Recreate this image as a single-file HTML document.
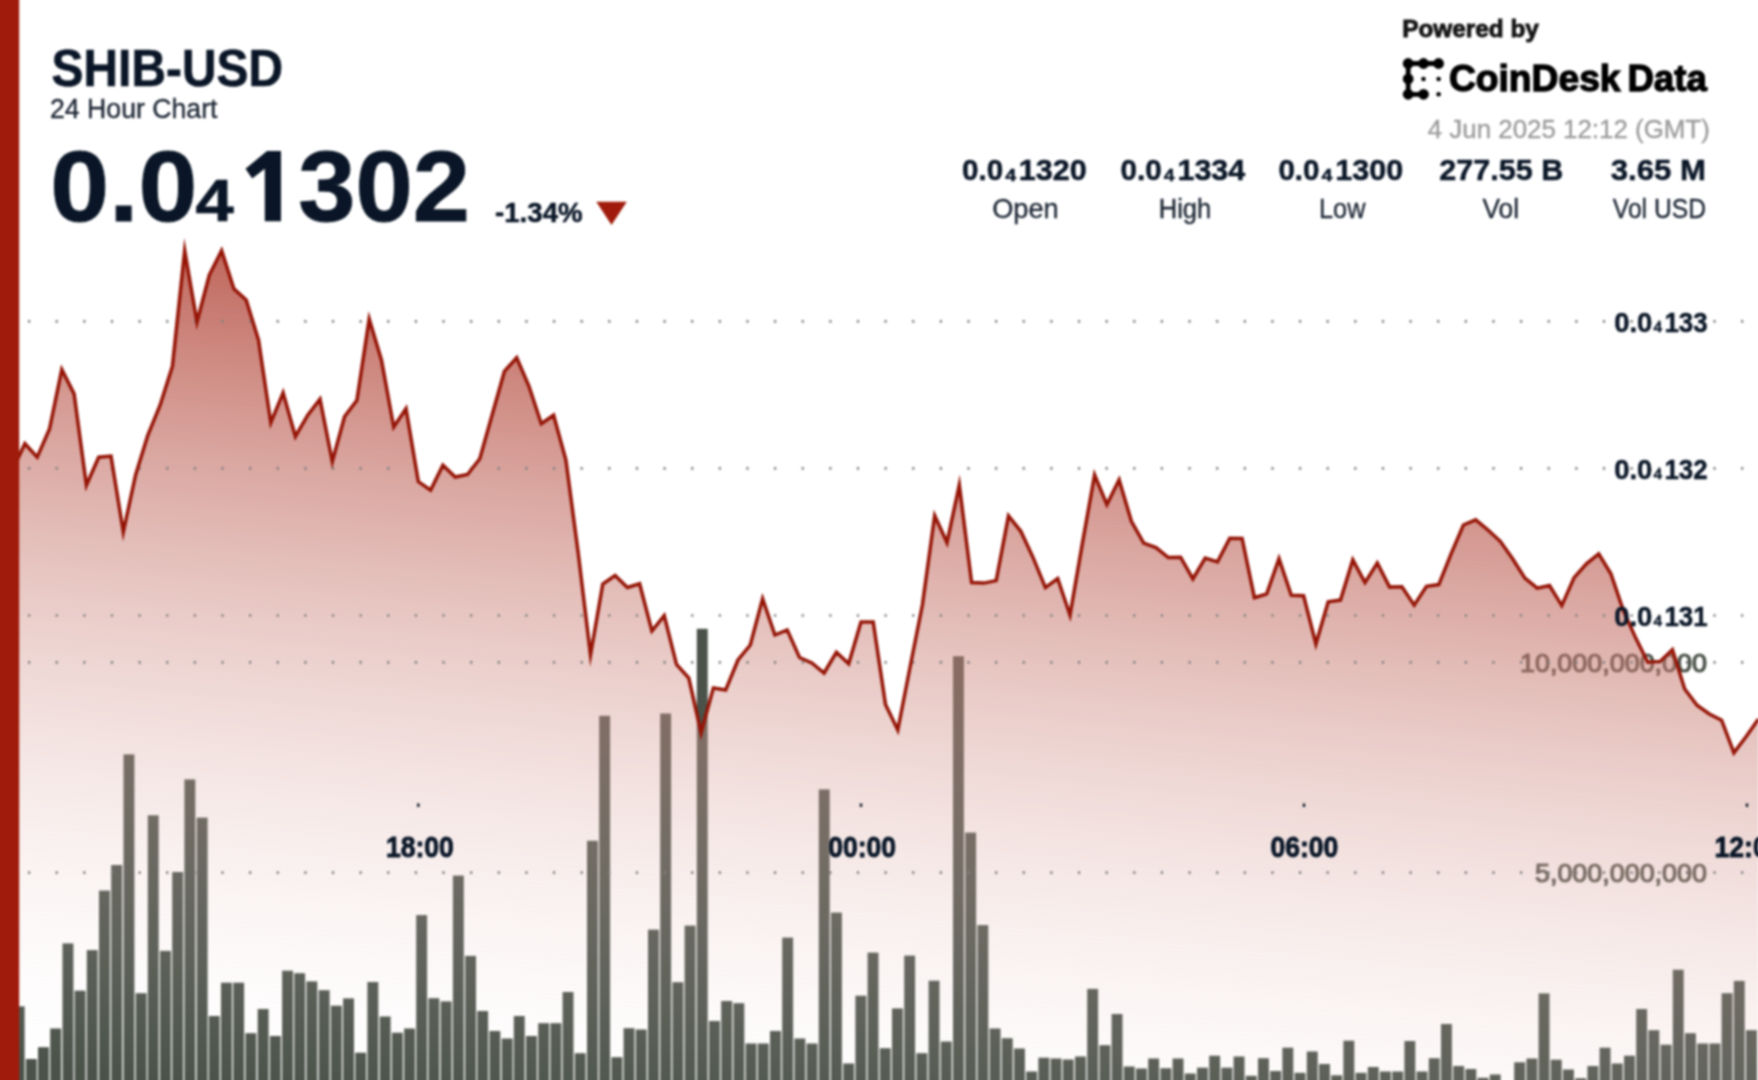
<!DOCTYPE html>
<html><head><meta charset="utf-8"><title>SHIB-USD 24 Hour Chart</title>
<style>html,body{margin:0;padding:0;background:#fff}body{width:1758px;height:1080px;overflow:hidden;font-family:"Liberation Sans",sans-serif}svg{display:block}text{font-family:"Liberation Sans",sans-serif}</style></head><body>
<svg width="1758" height="1080" viewBox="0 0 1758 1080">
<defs>
<linearGradient id="ag" gradientUnits="userSpaceOnUse" x1="0" y1="30.0" x2="-111.9" y2="1148.8"><stop offset="0" stop-color="#a01b0b" stop-opacity="1"/><stop offset="0.9150" stop-color="#f7ecea" stop-opacity="0"/><stop offset="1" stop-color="#ffffff" stop-opacity="0"/></linearGradient>
<filter id="bl" x="-2%" y="-2%" width="104%" height="104%" color-interpolation-filters="sRGB"><feGaussianBlur stdDeviation="0.8"/></filter>
</defs>
<rect width="1758" height="1080" fill="#fff"/>
<g filter="url(#bl)">
<g fill="#4a5249">
<rect x="13.7" y="1006.4" width="10.9" height="83.6"/>
<rect x="25.9" y="1059.0" width="10.9" height="31.0"/>
<rect x="38.0" y="1047.2" width="10.9" height="42.8"/>
<rect x="50.2" y="1028.5" width="10.9" height="61.5"/>
<rect x="62.5" y="943.4" width="10.9" height="146.6"/>
<rect x="74.6" y="990.7" width="10.9" height="99.3"/>
<rect x="86.8" y="950.1" width="10.9" height="139.9"/>
<rect x="99.0" y="890.6" width="10.9" height="199.4"/>
<rect x="111.2" y="865.0" width="10.9" height="225.0"/>
<rect x="123.5" y="754.4" width="10.9" height="335.6"/>
<rect x="135.7" y="993.2" width="10.9" height="96.8"/>
<rect x="147.8" y="815.3" width="10.9" height="274.7"/>
<rect x="160.0" y="950.9" width="10.9" height="139.1"/>
<rect x="172.2" y="872.0" width="10.9" height="218.0"/>
<rect x="184.4" y="779.4" width="10.9" height="310.6"/>
<rect x="196.7" y="817.6" width="10.9" height="272.4"/>
<rect x="208.8" y="1016.0" width="10.9" height="74.0"/>
<rect x="221.0" y="982.7" width="10.9" height="107.3"/>
<rect x="233.2" y="982.7" width="10.9" height="107.3"/>
<rect x="245.4" y="1033.2" width="10.9" height="56.8"/>
<rect x="257.7" y="1009.0" width="10.9" height="81.0"/>
<rect x="269.9" y="1036.0" width="10.9" height="54.0"/>
<rect x="282.1" y="970.7" width="10.9" height="119.3"/>
<rect x="294.2" y="973.2" width="10.9" height="116.8"/>
<rect x="306.4" y="981.4" width="10.9" height="108.6"/>
<rect x="318.7" y="990.2" width="10.9" height="99.8"/>
<rect x="330.9" y="1005.7" width="10.9" height="84.3"/>
<rect x="343.1" y="998.4" width="10.9" height="91.6"/>
<rect x="355.2" y="1052.7" width="10.9" height="37.3"/>
<rect x="367.4" y="982.0" width="10.9" height="108.0"/>
<rect x="379.7" y="1016.5" width="10.9" height="73.5"/>
<rect x="391.9" y="1032.7" width="10.9" height="57.3"/>
<rect x="404.1" y="1028.5" width="10.9" height="61.5"/>
<rect x="416.2" y="915.1" width="10.9" height="174.9"/>
<rect x="428.4" y="998.2" width="10.9" height="91.8"/>
<rect x="440.7" y="1001.4" width="10.9" height="88.6"/>
<rect x="452.9" y="875.6" width="10.9" height="214.4"/>
<rect x="465.1" y="955.9" width="10.9" height="134.1"/>
<rect x="477.2" y="1011.0" width="10.9" height="79.0"/>
<rect x="489.4" y="1031.0" width="10.9" height="59.0"/>
<rect x="501.7" y="1038.5" width="10.9" height="51.5"/>
<rect x="513.8" y="1016.0" width="10.9" height="74.0"/>
<rect x="526.0" y="1036.0" width="10.9" height="54.0"/>
<rect x="538.2" y="1023.2" width="10.9" height="66.8"/>
<rect x="550.4" y="1023.2" width="10.9" height="66.8"/>
<rect x="562.6" y="992.0" width="10.9" height="98.0"/>
<rect x="574.8" y="1053.2" width="10.9" height="36.8"/>
<rect x="587.0" y="840.8" width="10.9" height="249.2"/>
<rect x="599.2" y="715.8" width="10.9" height="374.2"/>
<rect x="611.4" y="1057.2" width="10.9" height="32.8"/>
<rect x="623.6" y="1028.2" width="10.9" height="61.8"/>
<rect x="635.8" y="1029.5" width="10.9" height="60.5"/>
<rect x="648.0" y="929.6" width="10.9" height="160.4"/>
<rect x="660.2" y="713.5" width="10.9" height="376.5"/>
<rect x="672.4" y="982.2" width="10.9" height="107.8"/>
<rect x="684.6" y="925.6" width="10.9" height="164.4"/>
<rect x="696.8" y="628.8" width="10.9" height="461.2"/>
<rect x="709.0" y="1021.0" width="10.9" height="69.0"/>
<rect x="721.2" y="1001.0" width="10.9" height="89.0"/>
<rect x="733.4" y="1003.2" width="10.9" height="86.8"/>
<rect x="745.6" y="1043.5" width="10.9" height="46.5"/>
<rect x="757.8" y="1043.5" width="10.9" height="46.5"/>
<rect x="770.0" y="1031.0" width="10.9" height="59.0"/>
<rect x="782.2" y="937.6" width="10.9" height="152.4"/>
<rect x="794.4" y="1038.5" width="10.9" height="51.5"/>
<rect x="806.6" y="1043.5" width="10.9" height="46.5"/>
<rect x="818.8" y="789.4" width="10.9" height="300.6"/>
<rect x="831.0" y="912.6" width="10.9" height="177.4"/>
<rect x="843.2" y="1063.5" width="10.9" height="26.5"/>
<rect x="855.4" y="995.7" width="10.9" height="94.3"/>
<rect x="867.6" y="952.6" width="10.9" height="137.4"/>
<rect x="879.8" y="1048.2" width="10.9" height="41.8"/>
<rect x="892.0" y="1008.4" width="10.9" height="81.6"/>
<rect x="904.2" y="955.6" width="10.9" height="134.4"/>
<rect x="916.4" y="1053.2" width="10.9" height="36.8"/>
<rect x="928.6" y="980.7" width="10.9" height="109.3"/>
<rect x="940.8" y="1041.5" width="10.9" height="48.5"/>
<rect x="953.0" y="656.2" width="10.9" height="433.8"/>
<rect x="965.2" y="832.6" width="10.9" height="257.4"/>
<rect x="977.4" y="925.1" width="10.9" height="164.9"/>
<rect x="989.6" y="1028.5" width="10.9" height="61.5"/>
<rect x="1001.8" y="1038.2" width="10.9" height="51.8"/>
<rect x="1014.0" y="1048.5" width="10.9" height="41.5"/>
<rect x="1026.2" y="1071.5" width="10.9" height="18.5"/>
<rect x="1038.4" y="1057.7" width="10.9" height="32.3"/>
<rect x="1050.6" y="1058.5" width="10.9" height="31.5"/>
<rect x="1062.8" y="1059.5" width="10.9" height="30.5"/>
<rect x="1075.0" y="1056.5" width="10.9" height="33.5"/>
<rect x="1087.2" y="988.9" width="10.9" height="101.1"/>
<rect x="1099.4" y="1045.2" width="10.9" height="44.8"/>
<rect x="1111.6" y="1014.0" width="10.9" height="76.0"/>
<rect x="1123.8" y="1066.5" width="10.9" height="23.5"/>
<rect x="1136.0" y="1068.5" width="10.9" height="21.5"/>
<rect x="1148.2" y="1058.5" width="10.9" height="31.5"/>
<rect x="1160.4" y="1068.2" width="10.9" height="21.8"/>
<rect x="1172.6" y="1058.5" width="10.9" height="31.5"/>
<rect x="1184.8" y="1073.5" width="10.9" height="16.5"/>
<rect x="1197.0" y="1067.7" width="10.9" height="22.3"/>
<rect x="1209.2" y="1055.7" width="10.9" height="34.3"/>
<rect x="1221.4" y="1067.7" width="10.9" height="22.3"/>
<rect x="1233.6" y="1056.5" width="10.9" height="33.5"/>
<rect x="1245.8" y="1075.8" width="10.9" height="14.2"/>
<rect x="1258.0" y="1058.2" width="10.9" height="31.8"/>
<rect x="1270.2" y="1071.0" width="10.9" height="19.0"/>
<rect x="1282.4" y="1047.7" width="10.9" height="42.3"/>
<rect x="1294.6" y="1072.8" width="10.9" height="17.2"/>
<rect x="1306.8" y="1051.5" width="10.9" height="38.5"/>
<rect x="1319.0" y="1064.0" width="10.9" height="26.0"/>
<rect x="1331.2" y="1075.3" width="10.9" height="14.7"/>
<rect x="1343.4" y="1040.7" width="10.9" height="49.3"/>
<rect x="1355.6" y="1072.8" width="10.9" height="17.2"/>
<rect x="1367.8" y="1067.0" width="10.9" height="23.0"/>
<rect x="1380.0" y="1071.5" width="10.9" height="18.5"/>
<rect x="1392.2" y="1071.5" width="10.9" height="18.5"/>
<rect x="1404.4" y="1041.0" width="10.9" height="49.0"/>
<rect x="1416.6" y="1071.5" width="10.9" height="18.5"/>
<rect x="1428.8" y="1058.2" width="10.9" height="31.8"/>
<rect x="1441.0" y="1024.0" width="10.9" height="66.0"/>
<rect x="1453.2" y="1066.0" width="10.9" height="24.0"/>
<rect x="1465.4" y="1069.0" width="10.9" height="21.0"/>
<rect x="1477.6" y="1077.8" width="10.9" height="12.2"/>
<rect x="1489.8" y="1074.5" width="10.9" height="15.5"/>
<rect x="1514.2" y="1062.3" width="10.9" height="27.7"/>
<rect x="1526.4" y="1058.5" width="10.9" height="31.5"/>
<rect x="1538.6" y="993.4" width="10.9" height="96.6"/>
<rect x="1550.8" y="1059.7" width="10.9" height="30.3"/>
<rect x="1563.0" y="1069.5" width="10.9" height="20.5"/>
<rect x="1575.2" y="1078.3" width="10.9" height="11.7"/>
<rect x="1587.4" y="1066.0" width="10.9" height="24.0"/>
<rect x="1599.6" y="1047.7" width="10.9" height="42.3"/>
<rect x="1611.8" y="1063.5" width="10.9" height="26.5"/>
<rect x="1624.0" y="1055.7" width="10.9" height="34.3"/>
<rect x="1636.2" y="1009.0" width="10.9" height="81.0"/>
<rect x="1648.4" y="1030.2" width="10.9" height="59.8"/>
<rect x="1660.6" y="1044.7" width="10.9" height="45.3"/>
<rect x="1672.8" y="969.7" width="10.9" height="120.3"/>
<rect x="1685.0" y="1033.2" width="10.9" height="56.8"/>
<rect x="1697.2" y="1043.5" width="10.9" height="46.5"/>
<rect x="1709.4" y="1043.5" width="10.9" height="46.5"/>
<rect x="1721.6" y="993.2" width="10.9" height="96.8"/>
<rect x="1733.8" y="980.9" width="10.9" height="109.1"/>
<rect x="1746.0" y="1030.2" width="10.9" height="59.8"/>
</g>
<text transform="translate(1519.97 672.20) scale(1.0128 1)" font-size="26.57" font-weight="normal" fill="#4a5249" stroke="#4a5249" stroke-width="1.20">10,000,000,000</text>
<text transform="translate(1534.99 882.40) scale(1.0125 1)" font-size="26.57" font-weight="normal" fill="#4a5249" stroke="#4a5249" stroke-width="1.20">5,000,000,000</text>
<polygon fill="url(#ag)" points="12.6,470.0 24.9,443.7 37.2,457.2 49.5,429.0 61.8,369.6 74.1,393.9 86.4,485.3 98.7,457.2 111.0,456.1 123.3,532.0 135.6,475.0 147.8,435.3 160.1,405.2 172.4,366.4 184.7,250.6 197.0,322.0 209.3,275.0 221.6,250.7 233.9,288.8 246.2,300.0 258.5,340.0 270.8,422.7 283.1,392.8 295.4,436.5 307.7,415.2 320.0,399.2 332.3,461.5 344.6,416.5 356.9,400.2 369.2,318.9 381.5,360.2 393.7,427.0 406.0,408.7 418.3,481.6 430.6,490.2 442.9,465.2 455.2,477.0 467.5,474.5 479.8,458.8 492.1,415.0 504.4,371.3 516.7,357.8 529.0,386.3 541.3,423.8 553.6,415.2 565.9,460.0 578.2,553.0 590.5,655.0 602.8,584.0 615.1,575.6 627.4,587.5 639.6,583.8 651.9,631.0 664.2,615.6 676.5,664.5 688.8,678.0 701.1,733.0 713.4,687.9 725.7,690.0 738.0,660.0 750.3,645.0 762.6,598.7 774.9,635.0 787.2,629.9 799.5,657.5 811.8,663.0 824.1,673.0 836.4,652.3 848.7,663.8 861.0,622.0 873.2,622.0 885.5,704.5 897.8,730.0 910.1,667.0 922.4,605.0 934.7,515.6 947.0,542.6 959.3,485.0 971.6,582.6 983.9,583.1 996.2,580.6 1008.5,515.8 1020.8,531.3 1033.1,557.6 1045.4,587.6 1057.7,578.5 1070.0,615.2 1082.3,543.9 1094.6,475.0 1106.9,504.6 1119.1,479.8 1131.4,521.3 1143.7,543.1 1156.0,547.6 1168.3,557.6 1180.6,557.2 1192.9,578.9 1205.2,558.1 1217.5,561.9 1229.8,538.3 1242.1,538.4 1254.4,597.7 1266.7,593.9 1279.0,558.6 1291.3,595.2 1303.6,595.7 1315.9,644.0 1328.2,601.8 1340.5,600.1 1352.8,559.8 1365.0,582.6 1377.3,563.0 1389.6,587.1 1401.9,586.7 1414.2,605.1 1426.5,586.3 1438.8,584.6 1451.1,553.8 1463.4,525.0 1475.7,519.8 1488.0,530.0 1500.3,541.3 1512.6,558.8 1524.9,578.1 1537.2,588.1 1549.5,585.5 1561.8,605.6 1574.1,577.6 1586.4,563.8 1598.7,553.8 1610.9,573.8 1623.2,610.0 1635.5,637.6 1647.8,662.2 1660.1,661.4 1672.4,649.7 1684.7,689.0 1697.0,705.2 1709.3,714.0 1721.6,720.2 1733.9,752.8 1746.2,736.5 1758.5,719.0 1758.5,1090 12.6,1090"/>
<line x1="28" x2="1758" y1="321.3" y2="321.3" stroke="#808080" stroke-width="2.7" stroke-dasharray="2.2 25.43"/>
<line x1="28" x2="1758" y1="468.4" y2="468.4" stroke="#808080" stroke-width="2.7" stroke-dasharray="2.2 25.43"/>
<line x1="28" x2="1758" y1="615.5" y2="615.5" stroke="#808080" stroke-width="2.7" stroke-dasharray="2.2 25.43"/>
<line x1="28" x2="1758" y1="662.3" y2="662.3" stroke="#808080" stroke-width="2.7" stroke-dasharray="2.2 25.43"/>
<line x1="28" x2="1758" y1="872.6" y2="872.6" stroke="#808080" stroke-width="2.7" stroke-dasharray="2.2 25.43"/>
<rect x="417.1" y="803.5" width="2.4" height="3.4" fill="#0a1627"/>
<rect x="859.8" y="803.5" width="2.4" height="3.4" fill="#0a1627"/>
<rect x="1302.8" y="803.5" width="2.4" height="3.4" fill="#0a1627"/>
<rect x="1745.8" y="803.5" width="2.4" height="3.4" fill="#0a1627"/>
<polyline fill="none" stroke="#951406" stroke-width="3.5" stroke-linejoin="miter" stroke-miterlimit="10" points="12.6,470.0 24.9,443.7 37.2,457.2 49.5,429.0 61.8,369.6 74.1,393.9 86.4,485.3 98.7,457.2 111.0,456.1 123.3,532.0 135.6,475.0 147.8,435.3 160.1,405.2 172.4,366.4 184.7,250.6 197.0,322.0 209.3,275.0 221.6,250.7 233.9,288.8 246.2,300.0 258.5,340.0 270.8,422.7 283.1,392.8 295.4,436.5 307.7,415.2 320.0,399.2 332.3,461.5 344.6,416.5 356.9,400.2 369.2,318.9 381.5,360.2 393.7,427.0 406.0,408.7 418.3,481.6 430.6,490.2 442.9,465.2 455.2,477.0 467.5,474.5 479.8,458.8 492.1,415.0 504.4,371.3 516.7,357.8 529.0,386.3 541.3,423.8 553.6,415.2 565.9,460.0 578.2,553.0 590.5,655.0 602.8,584.0 615.1,575.6 627.4,587.5 639.6,583.8 651.9,631.0 664.2,615.6 676.5,664.5 688.8,678.0 701.1,733.0 713.4,687.9 725.7,690.0 738.0,660.0 750.3,645.0 762.6,598.7 774.9,635.0 787.2,629.9 799.5,657.5 811.8,663.0 824.1,673.0 836.4,652.3 848.7,663.8 861.0,622.0 873.2,622.0 885.5,704.5 897.8,730.0 910.1,667.0 922.4,605.0 934.7,515.6 947.0,542.6 959.3,485.0 971.6,582.6 983.9,583.1 996.2,580.6 1008.5,515.8 1020.8,531.3 1033.1,557.6 1045.4,587.6 1057.7,578.5 1070.0,615.2 1082.3,543.9 1094.6,475.0 1106.9,504.6 1119.1,479.8 1131.4,521.3 1143.7,543.1 1156.0,547.6 1168.3,557.6 1180.6,557.2 1192.9,578.9 1205.2,558.1 1217.5,561.9 1229.8,538.3 1242.1,538.4 1254.4,597.7 1266.7,593.9 1279.0,558.6 1291.3,595.2 1303.6,595.7 1315.9,644.0 1328.2,601.8 1340.5,600.1 1352.8,559.8 1365.0,582.6 1377.3,563.0 1389.6,587.1 1401.9,586.7 1414.2,605.1 1426.5,586.3 1438.8,584.6 1451.1,553.8 1463.4,525.0 1475.7,519.8 1488.0,530.0 1500.3,541.3 1512.6,558.8 1524.9,578.1 1537.2,588.1 1549.5,585.5 1561.8,605.6 1574.1,577.6 1586.4,563.8 1598.7,553.8 1610.9,573.8 1623.2,610.0 1635.5,637.6 1647.8,662.2 1660.1,661.4 1672.4,649.7 1684.7,689.0 1697.0,705.2 1709.3,714.0 1721.6,720.2 1733.9,752.8 1746.2,736.5 1758.5,719.0"/>
<text transform="translate(385.88 857.00) scale(0.9161 1)" font-size="29.00" font-weight="bold" fill="none" stroke="#fff" stroke-opacity="0.3" stroke-width="2.4" stroke-linejoin="round">18:00</text>
<text transform="translate(385.88 857.00) scale(0.9161 1)" font-size="29.00" font-weight="bold" fill="#0a1627" stroke="#0a1627" stroke-width="0.90">18:00</text>
<text transform="translate(828.18 857.00) scale(0.9161 1)" font-size="29.00" font-weight="bold" fill="none" stroke="#fff" stroke-opacity="0.3" stroke-width="2.4" stroke-linejoin="round">00:00</text>
<text transform="translate(828.18 857.00) scale(0.9161 1)" font-size="29.00" font-weight="bold" fill="#0a1627" stroke="#0a1627" stroke-width="0.90">00:00</text>
<text transform="translate(1270.38 857.00) scale(0.9161 1)" font-size="29.00" font-weight="bold" fill="none" stroke="#fff" stroke-opacity="0.3" stroke-width="2.4" stroke-linejoin="round">06:00</text>
<text transform="translate(1270.38 857.00) scale(0.9161 1)" font-size="29.00" font-weight="bold" fill="#0a1627" stroke="#0a1627" stroke-width="0.90">06:00</text>
<text transform="translate(1714.58 857.00) scale(0.9161 1)" font-size="29.00" font-weight="bold" fill="none" stroke="#fff" stroke-opacity="0.3" stroke-width="2.4" stroke-linejoin="round">12:00</text>
<text transform="translate(1714.58 857.00) scale(0.9161 1)" font-size="29.00" font-weight="bold" fill="#0a1627" stroke="#0a1627" stroke-width="0.90">12:00</text>
<text transform="translate(51.58 85.90) scale(0.9193 1)" font-size="52.09" font-weight="bold" fill="#0a1627" stroke="#0a1627" stroke-width="0.61">SHIB-USD</text>
<text transform="translate(50.03 118.20) scale(0.9682 1)" font-size="27.54" font-weight="normal" fill="#1c2634" stroke="#1c2634" stroke-width="0.35">24 Hour Chart</text>
<text transform="translate(50.15 221.40) scale(1.0503 1)" font-size="100.86" font-weight="bold" fill="#0a1627" stroke="#0a1627" stroke-width="0.91">0.0</text>
<text transform="translate(195.60 221.40) scale(1.1727 1)" font-size="58.57" font-weight="bold" fill="#0a1627" stroke="#0a1627" stroke-width="0.65">4</text>
<text transform="translate(298.26 221.40) scale(1.0204 1)" font-size="100.86" font-weight="bold" fill="#0a1627" stroke="#0a1627" stroke-width="0.91">302</text>
<text transform="translate(495.00 221.60) scale(0.9983 1)" font-size="27.71" font-weight="bold" fill="#0a1627" stroke="#0a1627" stroke-width="0.47">-1.34%</text>
<text transform="translate(1402.22 36.60) scale(0.9843 1)" font-size="24.75" font-weight="bold" fill="#141414" stroke="#141414" stroke-width="0.90">Powered by</text>
<text transform="translate(1448.90 91.40) scale(0.9959 1)" font-size="37.39" font-weight="bold" fill="#000" stroke="#000" stroke-width="1.30">CoinDesk</text>
<text transform="translate(1627.44 91.40) scale(0.9785 1)" font-size="37.39" font-weight="bold" fill="#000" stroke="#000" stroke-width="1.30">Data</text>
<text transform="translate(1427.70 137.60) scale(0.9908 1)" font-size="26.14" font-weight="normal" fill="#9b9b9b" stroke="#9b9b9b" stroke-width="0.35">4 Jun 2025 12:12 (GMT)</text>
<text transform="translate(961.99 180.20) scale(1.0070 1)" font-size="29.43" font-weight="bold" fill="#0a1627" stroke="#0a1627" stroke-width="0.48">0.0</text>
<text transform="translate(1005.20 180.60) scale(1.1900 1)" font-size="16.43" font-weight="bold" fill="#0a1627" stroke="#0a1627" stroke-width="0.40">4</text>
<text transform="translate(1018.86 180.20) scale(1.0380 1)" font-size="29.43" font-weight="bold" fill="#0a1627" stroke="#0a1627" stroke-width="0.48">1320</text>
<text transform="translate(1120.59 180.20) scale(1.0070 1)" font-size="29.43" font-weight="bold" fill="#0a1627" stroke="#0a1627" stroke-width="0.48">0.0</text>
<text transform="translate(1163.80 180.60) scale(1.1900 1)" font-size="16.43" font-weight="bold" fill="#0a1627" stroke="#0a1627" stroke-width="0.40">4</text>
<text transform="translate(1177.47 180.20) scale(1.0344 1)" font-size="29.43" font-weight="bold" fill="#0a1627" stroke="#0a1627" stroke-width="0.48">1334</text>
<text transform="translate(1278.39 180.20) scale(1.0070 1)" font-size="29.43" font-weight="bold" fill="#0a1627" stroke="#0a1627" stroke-width="0.48">0.0</text>
<text transform="translate(1321.60 180.60) scale(1.1900 1)" font-size="16.43" font-weight="bold" fill="#0a1627" stroke="#0a1627" stroke-width="0.40">4</text>
<text transform="translate(1335.26 180.20) scale(1.0380 1)" font-size="29.43" font-weight="bold" fill="#0a1627" stroke="#0a1627" stroke-width="0.48">1300</text>
<text transform="translate(1439.26 180.40) scale(1.0383 1)" font-size="29.43" font-weight="bold" fill="#0a1627" stroke="#0a1627" stroke-width="0.48">277.55 B</text>
<text transform="translate(1610.80 180.40) scale(1.0588 1)" font-size="29.43" font-weight="bold" fill="#0a1627" stroke="#0a1627" stroke-width="0.48">3.65 M</text>
<text transform="translate(992.19 218.40) scale(1.0091 1)" font-size="26.96" font-weight="normal" fill="#1c2634" stroke="#1c2634" stroke-width="0.35">Open</text>
<text transform="translate(1158.70 218.40) scale(0.9481 1)" font-size="26.96" font-weight="normal" fill="#1c2634" stroke="#1c2634" stroke-width="0.35">High</text>
<text transform="translate(1319.02 218.40) scale(0.9382 1)" font-size="26.96" font-weight="normal" fill="#1c2634" stroke="#1c2634" stroke-width="0.35">Low</text>
<text transform="translate(1482.50 218.40) scale(0.9764 1)" font-size="26.96" font-weight="normal" fill="#1c2634" stroke="#1c2634" stroke-width="0.35">Vol</text>
<text transform="translate(1612.80 218.40) scale(0.9146 1)" font-size="26.96" font-weight="normal" fill="#1c2634" stroke="#1c2634" stroke-width="0.35">Vol USD</text>
<text transform="translate(1614.22 331.60) scale(0.9799 1)" font-size="28.00" font-weight="bold" fill="#0a1627" stroke="#0a1627" stroke-width="0.47">0.0</text>
<text transform="translate(1653.50 331.90) scale(1.0222 1)" font-size="15.00" font-weight="bold" fill="#0a1627" stroke="#0a1627" stroke-width="0.39">4</text>
<text transform="translate(1664.38 331.60) scale(0.9237 1)" font-size="28.00" font-weight="bold" fill="#0a1627" stroke="#0a1627" stroke-width="0.47">133</text>
<text transform="translate(1614.22 478.70) scale(0.9799 1)" font-size="28.00" font-weight="bold" fill="#0a1627" stroke="#0a1627" stroke-width="0.47">0.0</text>
<text transform="translate(1653.50 479.00) scale(1.0222 1)" font-size="15.00" font-weight="bold" fill="#0a1627" stroke="#0a1627" stroke-width="0.39">4</text>
<text transform="translate(1664.38 478.70) scale(0.9237 1)" font-size="28.00" font-weight="bold" fill="#0a1627" stroke="#0a1627" stroke-width="0.47">132</text>
<text transform="translate(1614.22 625.80) scale(0.9799 1)" font-size="28.00" font-weight="bold" fill="#0a1627" stroke="#0a1627" stroke-width="0.47">0.0</text>
<text transform="translate(1653.50 626.10) scale(1.0222 1)" font-size="15.00" font-weight="bold" fill="#0a1627" stroke="#0a1627" stroke-width="0.39">4</text>
<text transform="translate(1664.38 625.80) scale(0.9237 1)" font-size="28.00" font-weight="bold" fill="#0a1627" stroke="#0a1627" stroke-width="0.47">131</text>
<polygon fill="#0a1627" points="281,151.1 267,151.1 245.5,168.8 252.2,178.5 264.8,168.8 264.8,221.3 281,221.3"/>
<polygon fill="#a01b0b" points="596.3,201.7 626.8,201.7 611.5,225"/>
<g stroke="#000" stroke-width="4.8" stroke-linecap="round" fill="#000">
<path fill="none" d="M1408.2 63.5 H1438.6 M1408.2 63.5 V94.3 M1408.2 94.3 H1423.5"/>
<circle cx="1408.2" cy="63.5" r="5.4" stroke="none"/>
<circle cx="1423.5" cy="63.5" r="5.4" stroke="none"/>
<circle cx="1438.6" cy="63.5" r="5.4" stroke="none"/>
<circle cx="1408.2" cy="79" r="5.4" stroke="none"/>
<circle cx="1408.2" cy="94.3" r="5.4" stroke="none"/>
<circle cx="1423.5" cy="94.3" r="5.4" stroke="none"/>
<circle cx="1423.5" cy="79" r="2.3" stroke="none"/>
<circle cx="1438.6" cy="79" r="2.3" stroke="none"/>
<circle cx="1438.6" cy="94.3" r="2.3" stroke="none"/>
</g>
<rect x="-10" y="-10" width="29.2" height="1100" fill="#a01b0b"/>
</g></svg></body></html>
